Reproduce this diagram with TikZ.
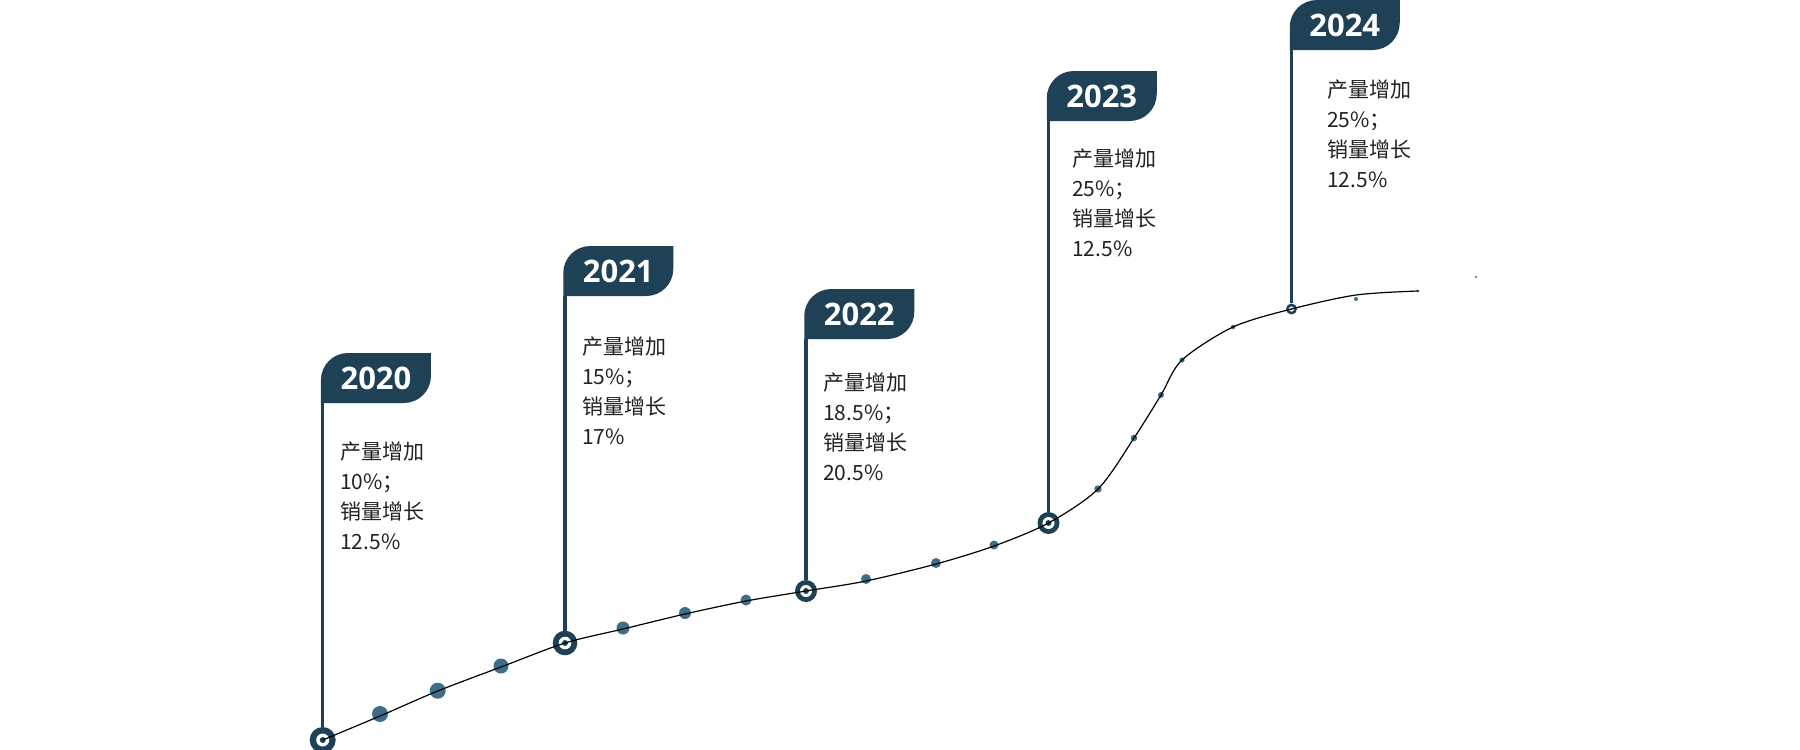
\documentclass[tikz,border=0pt]{standalone}
\usepackage{fontspec}
\newfontfamily\cjkfont{Noto Sans CJK SC}
\newfontfamily\flagfont{Open Sans}
\definecolor{flagblue}{HTML}{1F4156}
\definecolor{dotblue}{HTML}{3E6E87}
\definecolor{txtgray}{HTML}{222222}
\tikzset{
  flagtext/.style={font=\flagfont\bfseries\fontsize{31}{36}\selectfont, text=white, inner sep=0pt},
  info/.style={font=\cjkfont\fontsize{21}{30}\selectfont, text=txtgray, anchor=base west, inner sep=0pt},
  pole/.style={draw=flagblue, line width=3.5pt},
  trend/.style={draw=black, line width=1.2pt},
  tdot/.style={circle, fill=dotblue, inner sep=0pt, minimum size=#1},
  ringnode/.style={circle, fill=flagblue, inner sep=0pt, minimum size=#1},
}
% name, pole x, flag top, text
\newcommand\yflag[4]{%
  \fill[flagblue] ({#2-1.75},{#3+50}) -- ({#2-1.75},{#3+27})
    .. controls ({#2-1.75},{#3+12.1}) and ({#2+10.35},{#3}) .. ({#2+25.25},{#3})
    -- ({#2+108.25},{#3}) -- ({#2+108.25},{#3+23})
    .. controls ({#2+108.25},{#3+37.9}) and ({#2+96.15},{#3+50}) .. ({#2+81.25},{#3+50}) -- cycle;
  \node[flagtext] (#1) at ({#2+53.25},{#3+25}) {#4};
  \coordinate (#1p) at (#2,{#3+50});
}
% name, x, y, diameter, inner white radius, centre dot radius
\newcommand\yring[6]{%
  \node[ringnode=#4] (#1) at (#2,#3) {};
  \fill[white] (#1.center) circle (#5);
  \fill[flagblue] (#1.center) circle (#6);
}
% name, x, first line centre y, four lines
\newcommand\yinfo[7]{%
  \node[info] (#1a) at (#2,{#3+7.8}) {#4};
  \node[info] (#1b) at (#2,{#3+37.6}) {#5};
  \node[info] (#1c) at (#2,{#3+67.4}) {#6};
  \node[info] (#1d) at (#2,{#3+97.2}) {#7};
}
\begin{document}
\begin{tikzpicture}[x=1pt,y=-1pt]
\fill[white] (0,0) rectangle (1800,750);
\useasboundingbox (0,0) rectangle (1800,750);

% flags
\yflag{f20}{322.7}{353}{2020}
\yflag{f21}{565}{246}{2021}
\yflag{f22}{806}{289}{2022}
\yflag{f23}{1048.5}{71}{2023}
\yflag{f24}{1291.5}{0}{2024}

% rings
\yring{r20}{322.7}{740}{26pt}{6.5}{3}
\yring{r21}{565}{643}{24.6pt}{6.3}{3}
\yring{r22}{806}{591}{22pt}{6}{3}
\yring{r23}{1048.5}{523}{22pt}{6}{3}
\yring{r24}{1291.5}{309}{11pt}{2.6}{0.8}

% poles
\draw[pole] (f20p) -- (r20.north);
\draw[pole] (f21p) -- (r21.north);
\draw[pole] (f22p) -- (r22.north);
\draw[pole] (f23p) -- (r23.north);
\draw[pole] (f24p) -- (r24.north);

% dots
\node[tdot=16pt] (d1) at (380,714) {};
\node[tdot=16pt] (d2) at (437.7,690.7) {};
\node[tdot=15pt] (d3) at (501,666) {};
\node[tdot=13pt] (d4) at (623,628) {};
\node[tdot=12pt] (d5) at (685,613) {};
\node[tdot=11pt] (d6) at (746,600) {};
\node[tdot=10pt] (d7) at (866,579) {};
\node[tdot=10pt] (d8) at (936,563) {};
\node[tdot=9pt] (d9) at (994,545) {};
\node[tdot=7.4pt] (d10) at (1098,489) {};
\node[tdot=6.6pt] (d11) at (1134,438) {};
\node[tdot=6pt] (d12) at (1161,395) {};
\node[tdot=5.2pt] (d13) at (1182,360) {};
\node[tdot=4.4pt] (d14) at (1233,327) {};
\node[tdot=4pt] (d15) at (1356,299) {};
\node[tdot=3pt] (d16) at (1418,291) {};
\node[tdot=2.4pt] (d17) at (1476,277) {};

% trend curve
\draw[trend] plot[smooth, tension=0.5] coordinates {
 (322.7,740) (380,716) (437.7,691) (501,667) (565,643) (623,629) (685,614)
 (746,601) (806,591) (866,581) (936,564) (994,546) (1048.5,523) (1098,489)
 (1134,438) (1161,395) (1182,360) (1233,327) (1291.5,309) (1356,295) (1418,291)};

% texts
\yinfo{t20}{340}{452}{产量增加}{10\%；}{销量增长}{12.5\%}
\yinfo{t21}{582}{347}{产量增加}{15\%；}{销量增长}{17\%}
\yinfo{t22}{823}{383}{产量增加}{18.5\%；}{销量增长}{20.5\%}
\yinfo{t23}{1072}{159}{产量增加}{25\%；}{销量增长}{12.5\%}
\yinfo{t24}{1327}{90}{产量增加}{25\%；}{销量增长}{12.5\%}
\end{tikzpicture}
\end{document}
